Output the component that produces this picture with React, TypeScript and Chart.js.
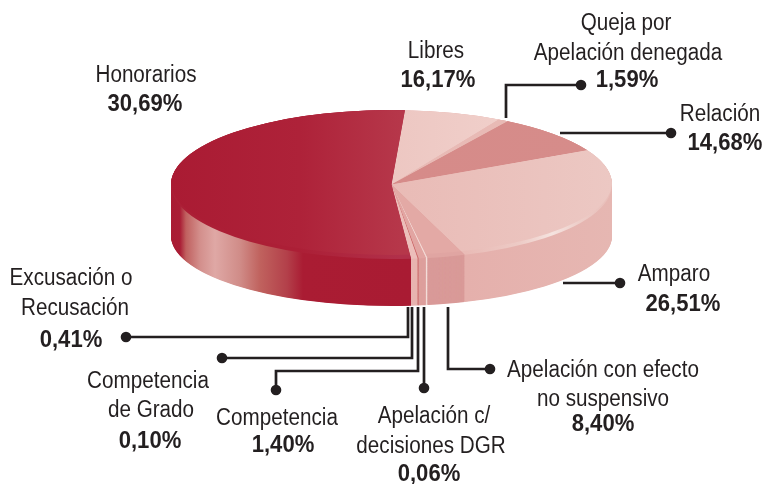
import React, { useEffect, useRef } from "react";
import { Chart, registerables } from "chart.js";

Chart.register(...registerables);

// Order follows the pie clockwise, starting at the Libres wedge.
const categories = [
  "Libres",
  "Queja por Apelación denegada",
  "Relación",
  "Amparo",
  "Apelación con efecto no suspensivo",
  "Apelación c/ decisiones DGR",
  "Competencia",
  "Competencia de Grado",
  "Excusación o Recusación",
  "Honorarios",
];
// The percentages printed beside each wedge.
const printedPercent = [16.17, 1.59, 14.68, 26.51, 8.4, 0.06, 1.4, 0.1, 0.41, 30.69];
// The wedges of the source are not proportional to its printed figures, so the
// sizes actually drawn are read off the picture.
const drawnShare = [7.11, 0.75, 8.56, 27.22, 2.78, 0.11, 0.53, 0.08, 0.47, 52.39];

const W = 762;
const H = 484;
const LEFT = 171;
const RIGHT = 612;
const CY_TOP = 184.5;
const RY_TOP = 74.5;
const CY_BOTTOM = 236;
const RY_BOTTOM = 70;
const INK = "#231F20";
const FONT = '"Liberation Sans", Arial, sans-serif';

type Stop = [number, string];
const hGrad = (ctx: CanvasRenderingContext2D, stops: Stop[]) => {
  const g = ctx.createLinearGradient(LEFT, 0, RIGHT, 0);
  stops.forEach(([x, c]) => g.addColorStop((x - LEFT) / (RIGHT - LEFT), c));
  return g;
};

// text lines: [text, centre x, baseline y, bold]
type Line = [string, number, number, boolean];
const pct = (i: number) => printedPercent[i].toFixed(2).replace(".", ",") + "%";
const textLines: Line[] = [
  [`Libres`, 436, 58, false],
  [pct(0), 438, 87, true],
  [`Queja por`, 626, 30, false],
  [`Apelación denegada`, 628, 60, false],
  [pct(1), 627, 87, true],
  [`Relación`, 720, 121, false],
  [pct(2), 725, 150, true],
  [`Amparo`, 674, 281, false],
  [pct(3), 683, 311, true],
  [`Apelación con efecto`, 603, 377, false],
  [`no suspensivo`, 603, 406, false],
  [pct(4), 603, 431, true],
  [`Apelación c/`, 434, 423, false],
  [`decisiones DGR`, 431, 453, false],
  [pct(5), 429, 481, true],
  [`Competencia`, 277, 425, false],
  [pct(6), 283, 452, true],
  [`Competencia`, 148, 388, false],
  [`de Grado`, 151, 417, false],
  [pct(7), 150, 448, true],
  [`Excusación o`, 71, 285, false],
  [`Recusación`, 75, 315, false],
  [pct(8), 71, 347, true],
  [`Honorarios`, 146, 82, false],
  [pct(9), 145, 111, true],
];

// leader polylines, ending at the dot
const leaders: [number, number][][] = [
  [[506, 118], [506, 85], [581, 85]],
  [[560, 133], [671, 133]],
  [[563, 283], [620, 283]],
  [[448, 307], [448, 369], [490, 369]],
  [[424, 307], [424, 388]],
  [[418, 307], [418, 371], [276, 371], [276, 390]],
  [[412, 307], [412, 358], [222, 358]],
  [[408, 307], [408, 337], [126, 337]],
];

export default function App() {
  const ref = useRef<HTMLCanvasElement>(null);

  useEffect(() => {
    const canvas = ref.current!;
    const c2d = canvas.getContext("2d")!;

    const topColors = [
      hGrad(c2d, [[392, "#EDC7C2"], [500, "#F0CFCA"]]),
      "#E8BAB5",
      hGrad(c2d, [[392, "#D68B89"], [590, "#D68C8A"]]),
      hGrad(c2d, [[392, "#E9BBB6"], [612, "#ECC8C3"]]),
      "#E3A9A5",
      "#F2D6D2",
      "#E2A5A2",
      "#CF6F70",
      "#ECBEBA",
      hGrad(c2d, [[171, "#AA1B33"], [300, "#AE2239"], [400, "#B6374A"]]),
    ];
    const bevelColors = [
      "#EDC7C2",
      "#E8BAB5",
      "#D68B89",
      hGrad(c2d, [[466, "#E9BBB6"], [520, "#EDCBC6"], [552, "#F5E3DF"], [580, "#EDCDC8"], [612, "#E8BDB8"]]),
      "#E0A5A2",
      "#F2D6D2",
      "#E2A5A2",
      "#CF6F70",
      "#ECBEBA",
      hGrad(c2d, [[300, "#AC1F36"], [400, "#B1304A"]]),
    ];
    const sideColors = [
      "#E5B1AD",
      "#E5B1AD",
      "#E5B1AD",
      hGrad(c2d, [[466, "#E5B0AC"], [612, "#E6B7B2"]]),
      "#D99A98",
      "#F3DDD9",
      "#DD9F9C",
      "#CD6D6E",
      "#E8B4B0",
      hGrad(c2d, [
        [171, "#A91B33"],
        [180, "#AA1D35"],
        [186, "#C0605F"],
        [200, "#D38F8C"],
        [215, "#DFA8A5"],
        [240, "#D08C88"],
        [260, "#C0625E"],
        [287, "#B3404A"],
        [303, "#AA1C33"],
        [411, "#A91B33"],
      ]),
    ];

    const squash = (ctx: CanvasRenderingContext2D, chart: any, cy: number, ry: number) => {
      const arc = chart.getDatasetMeta(0).data[0] as any;
      const R = arc.outerRadius;
      ctx.translate(0, cy);
      ctx.scale(1, ry / R);
      ctx.translate(0, -arc.y);
    };

    const paintWith = (ctx: CanvasRenderingContext2D, chart: any, colors: any[]) => {
      chart.getDatasetMeta(0).data.forEach((arc: any, i: number) => {
        const saved = arc.options.backgroundColor;
        arc.options.backgroundColor = colors[i];
        arc.draw(ctx);
        arc.options.backgroundColor = saved;
      });
    };

    const pie3d = {
      id: "pie3d",
      beforeDatasetsDraw(chart: any) {
        const ctx = chart.ctx as CanvasRenderingContext2D;
        const steps = 104;
        for (let s = steps; s >= 0; s--) {
          const t = s / steps;
          ctx.save();
          squash(ctx, chart, CY_TOP + (CY_BOTTOM - CY_TOP) * t, RY_TOP + (RY_BOTTOM - RY_TOP) * t);
          paintWith(ctx, chart, sideColors);
          ctx.restore();
        }
        ctx.save();
        squash(ctx, chart, CY_TOP, RY_TOP);
        paintWith(ctx, chart, bevelColors);
        ctx.restore();
        // Face of the pie: same wedges, clipped inside the bevel crescent.
        ctx.save();
        ctx.beginPath();
        ctx.ellipse((LEFT + RIGHT) / 2, 182.5, (RIGHT - LEFT) / 2, 72.5, 0, 0, Math.PI * 2);
        ctx.clip();
        squash(ctx, chart, CY_TOP, RY_TOP);
      },
      afterDatasetsDraw(chart: any) {
        const ctx = chart.ctx as CanvasRenderingContext2D;
        ctx.restore();
        ctx.save();
        ctx.strokeStyle = INK;
        ctx.fillStyle = INK;
        ctx.lineWidth = 2.7;
        leaders.forEach((pts) => {
          ctx.beginPath();
          pts.forEach(([x, y], i) => (i ? ctx.lineTo(x, y) : ctx.moveTo(x, y)));
          ctx.stroke();
          const [dx, dy] = pts[pts.length - 1];
          ctx.beginPath();
          ctx.arc(dx, dy, 5.3, 0, Math.PI * 2);
          ctx.fill();
        });
        ctx.textAlign = "center";
        ctx.textBaseline = "alphabetic";
        textLines.forEach(([text, x, y, bold]) => {
          ctx.save();
          ctx.translate(x, y);
          ctx.scale(bold ? 0.92 : 0.887, 1);
          ctx.font = `${bold ? "bold 24px" : "23.3px"} ${FONT}`;
          ctx.fillText(text, 0, 0);
          ctx.restore();
        });
        ctx.restore();
      },
    };

    const chart = new Chart(canvas, {
      type: "pie",
      data: {
        labels: categories,
        datasets: [
          {
            data: drawnShare,
            backgroundColor: topColors as any,
            borderWidth: 0,
            hoverOffset: 0,
            clip: false as any,
          },
        ],
      },
      options: {
        animation: false,
        responsive: false,
        rotation: 3.5,
        layout: { padding: { left: LEFT, right: W - RIGHT, top: (H - (RIGHT - LEFT)) / 2, bottom: (H - (RIGHT - LEFT)) / 2 } },
        plugins: { legend: { display: false }, tooltip: { enabled: false } },
        events: [],
      },
      plugins: [pie3d as any],
    });
    return () => chart.destroy();
  }, []);

  return (
    <div style={{ position: "fixed", left: 0, top: 0, width: W, height: H, background: "#fff" }}>
      <canvas ref={ref} width={W} height={H} style={{ display: "block" }} />
    </div>
  );
}
